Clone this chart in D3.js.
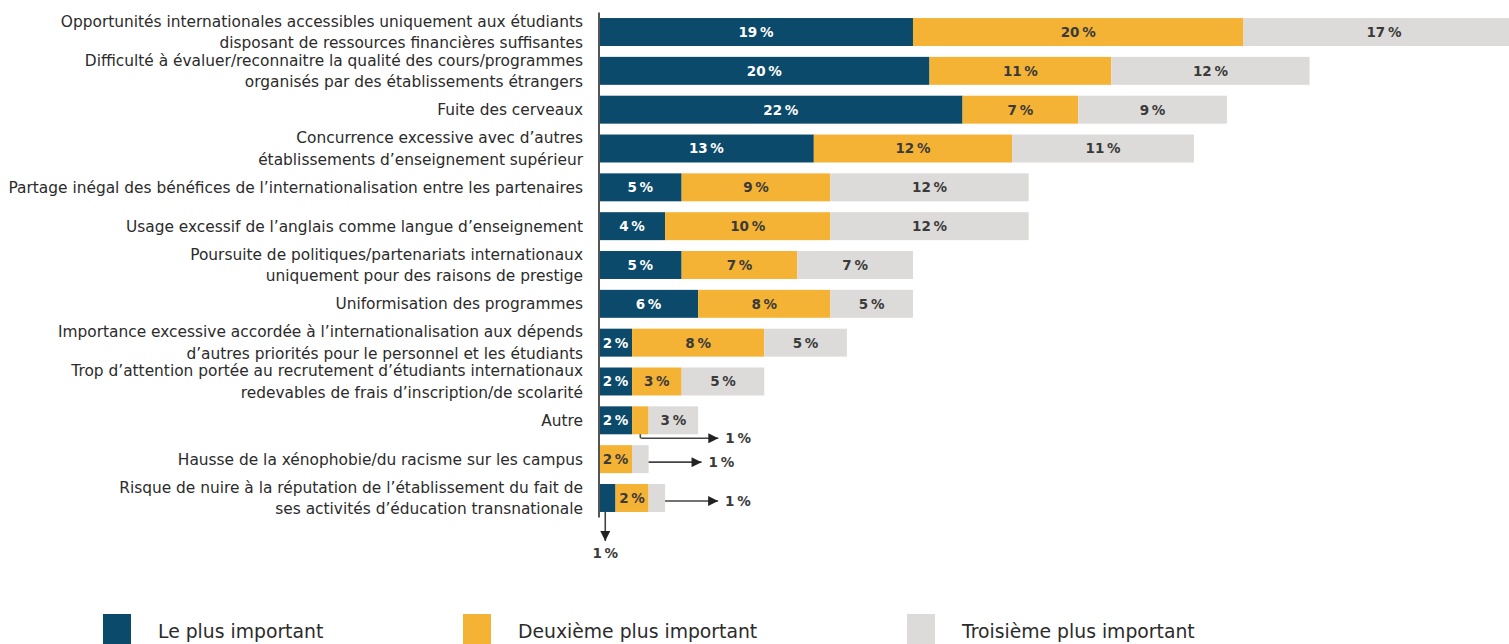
<!DOCTYPE html>
<html lang="fr">
<head>
<meta charset="UTF-8">
<title>Risques de l'internationalisation</title>
<script src="https://d3js.org/d3.v7.min.js"></script>
<style>
  body { margin: 0; background: #fff; }
  svg { display: block; font-family: "DejaVu Sans", "Liberation Sans", Arial, sans-serif; }
</style>
</head>
<body>
<script>
// categories (top to bottom), line breaks as in the original
const categories = [
  "Opportunités internationales accessibles uniquement aux étudiants\ndisposant de ressources financières suffisantes",
  "Difficulté à évaluer/reconnaitre la qualité des cours/programmes\norganisés par des établissements étrangers",
  "Fuite des cerveaux",
  "Concurrence excessive avec d’autres\nétablissements d’enseignement supérieur",
  "Partage inégal des bénéfices de l’internationalisation entre les partenaires",
  "Usage excessif de l’anglais comme langue d’enseignement",
  "Poursuite de politiques/partenariats internationaux\nuniquement pour des raisons de prestige",
  "Uniformisation des programmes",
  "Importance excessive accordée à l’internationalisation aux dépends\nd’autres priorités pour le personnel et les étudiants",
  "Trop d’attention portée au recrutement d’étudiants internationaux\nredevables de frais d’inscription/de scolarité",
  "Autre",
  "Hausse de la xénophobie/du racisme sur les campus",
  "Risque de nuire à la réputation de l’établissement du fait de\nses activités d’éducation transnationale"
];

const seriesNames = ["Le plus important", "Deuxième plus important", "Troisième plus important"];
const first  = [19, 20, 22, 13, 5, 4, 5, 6, 2, 2, 2, 0, 1];
const second = [20, 11, 7, 12, 9, 10, 7, 8, 8, 3, 1, 2, 2];
const third  = [17, 12, 9, 11, 12, 12, 7, 5, 5, 5, 3, 1, 1];

// small segments labelled outside with an arrow
const notes = [
  { row: 10, series: 1, kind: "bend" },
  { row: 11, series: 2, kind: "right" },
  { row: 12, series: 2, kind: "right" },
  { row: 12, series: 0, kind: "down" }
];

const colors = ["#0b4a6a", "#f5b335", "#dddbd9"];
const textColors = ["#ffffff", "#3a3a3a", "#3a3a3a"];

const W = 1509, H = 644;
const svg = d3.select("body").append("svg").attr("width", W).attr("height", H);

const table = categories.map((c, i) => ({ cat: c, s0: first[i], s1: second[i], s2: third[i] }));
const stack = d3.stack().keys(["s0", "s1", "s2"])(table);

const x = d3.scaleLinear().domain([0, 20]).range([599, 929.5]);
const y = d3.scaleBand().domain(categories).range([12.6, 517.4]).paddingInner(0.28).paddingOuter(0.14);

const defs = svg.append("defs");
defs.append("marker").attr("id", "arr")
  .attr("viewBox", "0 0 10 10").attr("refX", 10).attr("refY", 5)
  .attr("markerWidth", 11).attr("markerHeight", 10).attr("markerUnits", "userSpaceOnUse")
  .attr("orient", "auto")
  .append("path").attr("d", "M0,0L10,5L0,10Z").attr("fill", "#222");

// bars
const layers = svg.append("g").selectAll("g").data(stack).join("g")
  .attr("fill", (d, i) => colors[i]);

layers.selectAll("rect").data(d => d).join("rect")
  .attr("x", d => x(d[0]))
  .attr("y", d => y(d.data.cat))
  .attr("width", d => Math.max(0, x(d[1]) - x(d[0])))
  .attr("height", y.bandwidth());

// values inside bars
layers.each(function (layer, li) {
  d3.select(this).selectAll("text").data(layer.filter(d => d[1] - d[0] >= 2)).join("text")
    .attr("x", d => (x(d[0]) + x(d[1])) / 2)
    .attr("y", d => y(d.data.cat) + y.bandwidth() / 2)
    .attr("dy", "0.36em")
    .attr("text-anchor", "middle")
    .attr("font-size", 13.5)
    .attr("font-weight", "bold")
    .attr("fill", textColors[li])
    .text(d => (d[1] - d[0]) + "\u2009%");
});

// axis line
svg.append("line")
  .attr("x1", x(0)).attr("x2", x(0))
  .attr("y1", y.range()[0]).attr("y2", y.range()[1])
  .attr("stroke", "#555").attr("stroke-width", 2);

// category labels
const labels = svg.append("g").selectAll("text").data(categories).join("text")
  .attr("text-anchor", "end")
  .attr("font-size", 15.4)
  .attr("fill", "#2b2b2b");
labels.each(function (c) {
  const lines = c.split("\n");
  const cy = y(c) + y.bandwidth() / 2;
  d3.select(this).selectAll("tspan").data(lines).join("tspan")
    .attr("x", 583)
    .attr("y", (l, i) => cy + (i - (lines.length - 1) / 2) * 21.5)
    .attr("dy", "0.36em")
    .text(l => l);
});

// arrow annotations for the 1 % segments
const ann = svg.append("g");
notes.forEach(n => {
  const seg = stack[n.series][n.row];
  const top = y(categories[n.row]);
  const bot = top + y.bandwidth();
  const cy = top + y.bandwidth() / 2;
  const label = (seg[1] - seg[0]) + "\u2009%";
  let path, lx, ly, anchor = "start";
  if (n.kind === "right") {
    const x0 = x(seg[1]);
    path = `M${x0},${cy + 3}H${x0 + 53}`;
    lx = x0 + 60; ly = cy + 3;
  } else if (n.kind === "bend") {
    const xm = (x(seg[0]) + x(seg[1])) / 2;
    path = `M${xm},${bot}V${bot + 3}Q${xm},${bot + 4} ${xm + 4},${bot + 4}H${xm + 78}`;
    lx = xm + 85; ly = bot + 4;
  } else {
    const xm = (x(seg[0]) + x(seg[1])) / 2 - 2;
    path = `M${xm},${bot}V${bot + 29}`;
    lx = xm; ly = bot + 41; anchor = "middle";
  }
  ann.append("path").attr("d", path).attr("fill", "none")
    .attr("stroke", "#444").attr("stroke-width", 1.6).attr("marker-end", "url(#arr)");
  ann.append("text").attr("x", lx).attr("y", ly).attr("dy", "0.36em")
    .attr("text-anchor", anchor).attr("font-size", 13.5).attr("font-weight", "bold")
    .attr("fill", "#3a3a3a").text(label);
});

// legend
const legendX = [103, 463, 907];
const legend = svg.append("g").selectAll("g").data(seriesNames).join("g")
  .attr("transform", (d, i) => `translate(${legendX[i]},614)`);
legend.append("rect").attr("width", 28).attr("height", 30).attr("fill", (d, i) => colors[i]);
legend.append("text").attr("x", 55).attr("y", 17).attr("dy", "0.36em")
  .attr("font-size", 18.8).attr("fill", "#2b2b2b").text(d => d);
</script>
</body>
</html>
